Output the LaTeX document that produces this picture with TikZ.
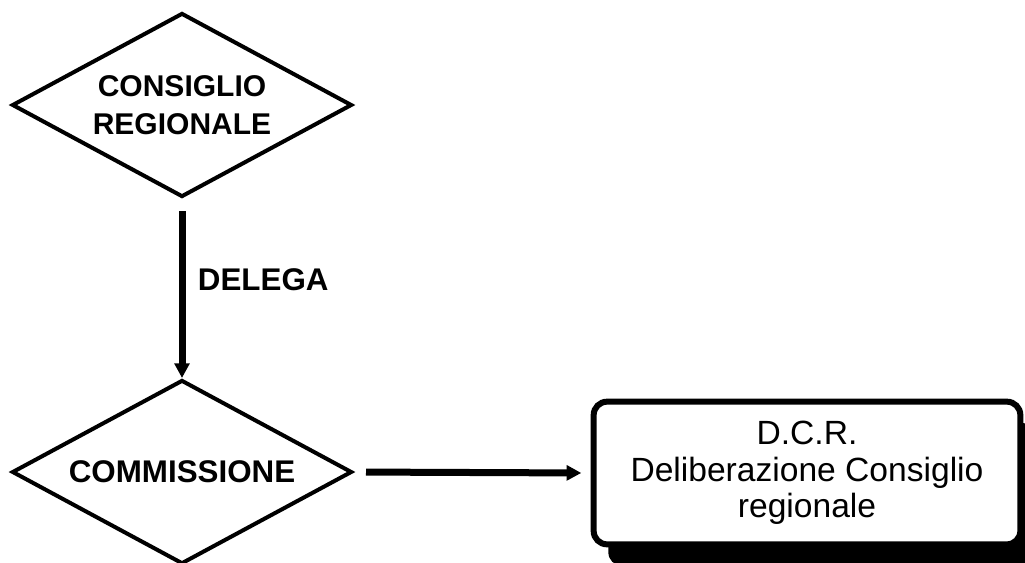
\documentclass[tikz,border=0pt]{standalone}
\usepackage{fontspec}
\setmainfont{Liberation Sans}
\usetikzlibrary{shapes.geometric,arrows.meta,shadows}
\begin{document}
\begin{tikzpicture}[x=0.75pt,y=-0.75pt,
  dia/.style={shape=diamond, draw=black, line width=3pt, fill=white,
    aspect=1.848, minimum width=255pt, minimum height=138pt, inner sep=0pt,
    font=\fontsize{22.5}{28}\selectfont\bfseries, align=center},
  outbox/.style={draw=black, line width=4.5pt, fill=white, rounded corners=10pt,
    minimum width=320pt, minimum height=107pt, inner sep=0pt,
    font=\fontsize{25.2}{27.5}\selectfont, align=center,
    drop shadow={shadow xshift=11pt, shadow yshift=-16pt, fill=black, opacity=1}},
  arr/.style={line width=5.25pt, -{Triangle[length=11pt,width=11pt]}},
  lbl/.style={font=\fontsize{23.5}{28}\selectfont\bfseries}
]
\useasboundingbox (0,0) rectangle (1025,562);
\clip (0,0) rectangle (1025,562);
\node[dia] (cr) at (182,105) {CONSIGLIO\\REGIONALE};
\node[dia, font=\fontsize{23.5}{28}\selectfont\bfseries] (com) at (182,472) {COMMISSIONE};
\node[outbox] (dcr) at (807,473) {D.C.R.\\Deliberazione Consiglio\\regionale};
\draw[arr, shorten <=9pt] (cr.south) -- node[lbl, pos=0.45, anchor=west, xshift=6pt] (del) {DELEGA} (com.north);
\draw[arr, shorten <=9pt, shorten >=7pt] (com.east) -- (dcr.west);
\end{tikzpicture}
\end{document}
